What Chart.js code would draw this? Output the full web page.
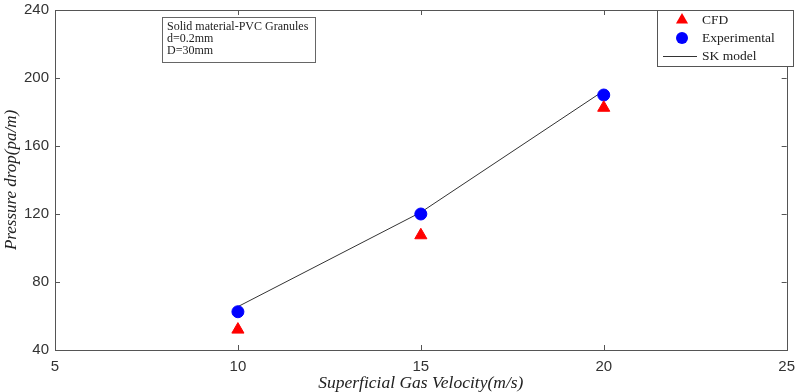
<!DOCTYPE html>
<html><head><meta charset="utf-8">
<script src="https://cdn.jsdelivr.net/npm/chart.js@4/dist/chart.umd.min.js"></script>
<style>html,body{margin:0;padding:0;background:#fff}#wrap{width:803px;height:392px;position:relative}</style>
</head><body><div id="wrap"><canvas id="c" width="803" height="392"></canvas></div>
<script>
const velocity = [10, 15, 20];
const cfdValues = [52, 107.5, 182.5];
const experimentalValues = [62.5, 120, 190];
const skModelValues = [65.5, 121, 192.5];
const xTicks = [5, 10, 15, 20, 25];
const yTicks = [40, 80, 120, 160, 200, 240];
const seriesNames = ['CFD', 'Experimental', 'SK model'];
const annotationLines = ['Solid material-PVC Granules', 'd=0.2mm', 'D=30mm'];
const xTitle = 'Superficial Gas Velocity(m/s)';
const yTitle = 'Pressure drop(pa/m)';

const pts = vals => velocity.map((x, i) => ({x: x, y: vals[i]}));
const serif = '"Liberation Serif", "Times New Roman", serif';
const sans = '"Liberation Sans", Arial, sans-serif';

const frame = {
  id: 'frame',
  afterDraw(chart) {
    const ctx = chart.ctx, a = chart.chartArea;
    const xs = chart.scales.x, ys = chart.scales.y;
    ctx.save();
    ctx.strokeStyle = '#555';
    ctx.lineWidth = 1;
    ctx.strokeRect(Math.round(a.left) + 0.5, Math.round(a.top) + 0.5, Math.round(a.right - a.left), Math.round(a.bottom - a.top));
    const tl = 5;
    ctx.beginPath();
    xTicks.forEach(v => {
      const px = Math.round(xs.getPixelForValue(v)) + 0.5;
      ctx.moveTo(px, a.bottom); ctx.lineTo(px, a.bottom - tl);
      ctx.moveTo(px, a.top); ctx.lineTo(px, a.top + tl);
    });
    yTicks.forEach(v => {
      const py = Math.round(ys.getPixelForValue(v)) + 0.5;
      ctx.moveTo(a.left, py); ctx.lineTo(a.left + tl, py);
      ctx.moveTo(a.right, py); ctx.lineTo(a.right - tl, py);
    });
    ctx.stroke();

    // annotation box
    ctx.fillStyle = '#fff';
    ctx.fillRect(162, 17, 153, 45);
    ctx.strokeStyle = '#666';
    ctx.strokeRect(162.5, 17.5, 153, 45);
    ctx.fillStyle = '#222';
    ctx.font = '12px ' + serif;
    ctx.textBaseline = 'middle';
    ctx.textAlign = 'left';
    annotationLines.forEach((t, i) => ctx.fillText(t, 167, 26.5 + i * 12));

    // legend
    const lx = 657, ly = 10, lw = 136, lh = 56;
    ctx.fillStyle = '#fff';
    ctx.fillRect(lx, ly, lw, lh);
    ctx.strokeStyle = '#555';
    ctx.strokeRect(lx + 0.5, ly + 0.5, lw, lh);
    ctx.font = '13.5px ' + serif;
    const rows = [20, 38, 56];
    chart.data.datasets.forEach((ds, i) => {
      const y = rows[i];
      if (ds.showLine) {
        ctx.strokeStyle = ds.borderColor; ctx.lineWidth = 1;
        ctx.beginPath(); ctx.moveTo(663, y + 0.5); ctx.lineTo(697, y + 0.5); ctx.stroke();
      } else {
        ctx.fillStyle = ds.backgroundColor;
        ctx.beginPath();
        if (ds.pointStyle === 'circle') { ctx.arc(682, y, ds.pointRadius, 0, Math.PI * 2); }
        else {
          const r = ds.pointRadius;
          ctx.moveTo(682, y - r); ctx.lineTo(682 + r * 0.866, y + r * 0.5); ctx.lineTo(682 - r * 0.866, y + r * 0.5); ctx.closePath();
        }
        ctx.fill();
      }
      ctx.fillStyle = '#222';
      ctx.fillText(ds.label, 702, y);
    });
    ctx.restore();
  }
};

new Chart(document.getElementById('c'), {
  type: 'scatter',
  data: {
    datasets: [
      {label: seriesNames[0], data: pts(cfdValues), pointStyle: 'triangle', pointRadius: 7, pointHoverRadius: 7,
       backgroundColor: '#ff0000', borderColor: '#ff0000', borderWidth: 1, showLine: false},
      {label: seriesNames[1], data: pts(experimentalValues), pointStyle: 'circle', pointRadius: 6, pointHoverRadius: 6,
       backgroundColor: '#0000ff', borderColor: '#0000ff', borderWidth: 1, showLine: false},
      {label: seriesNames[2], data: pts(skModelValues), showLine: true, pointRadius: 0, pointHoverRadius: 0,
       borderColor: '#333333', backgroundColor: '#333333', borderWidth: 1, tension: 0}
    ]
  },
  options: {
    responsive: false, animation: false, devicePixelRatio: 1,
    layout: {padding: {left: 0, right: 15, top: 10, bottom: 0}},
    plugins: {legend: {display: false}, tooltip: {enabled: false}},
    scales: {
      x: {
        type: 'linear', min: 5, max: 25,
        afterBuildTicks: s => { s.ticks = xTicks.map(v => ({value: v})); },
        afterFit: s => { s.height = 42; },
        grid: {display: false, drawTicks: false},
        border: {display: true, color: '#555', width: 1},
        ticks: {padding: 8, color: '#333', font: {family: sans, size: 15}},
        title: {display: true, text: xTitle, color: '#222', padding: {top: 0, bottom: -2},
                font: {family: serif, size: 17.5, style: 'italic', lineHeight: 1.2}}
      },
      y: {
        type: 'linear', min: 40, max: 240,
        afterBuildTicks: s => { s.ticks = yTicks.map(v => ({value: v})); },
        afterFit: s => { s.width = 55; },
        grid: {display: false, drawTicks: false},
        border: {display: true, color: '#555', width: 1},
        ticks: {padding: 6, color: '#333', font: {family: sans, size: 15, lineHeight: 0.2}},
        title: {display: true, text: yTitle, color: '#222', padding: {top: 1, bottom: 0},
                font: {family: serif, size: 17, style: 'italic', lineHeight: 1.2}}
      }
    }
  },
  plugins: [frame]
});
</script>
</body></html>
